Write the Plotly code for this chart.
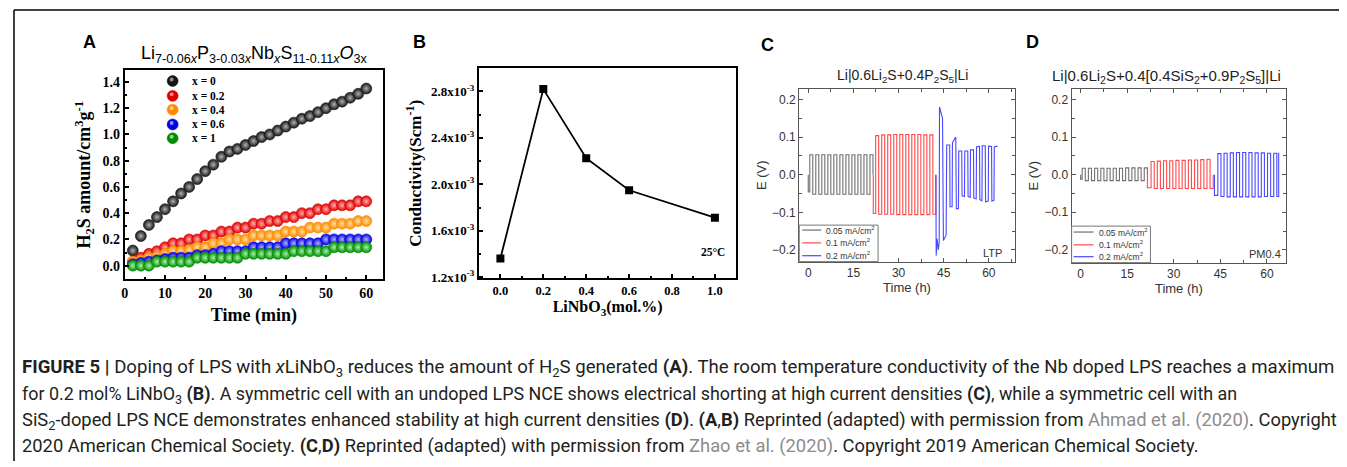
import plotly.graph_objects as go

W, H = 1347, 467
OX, OY = 8, 8            # default page margin of the HTML body
FW, FH = W - OX, H - OY  # figure size so that it fills the window exactly

# ---------------- Panel A data ----------------
a_time = [2, 4, 6, 8, 10, 12, 14, 16, 18, 20, 22, 24, 26, 28, 30,
          32, 34, 36, 38, 40, 42, 44, 46, 48, 50, 52, 54, 56, 58, 60]
a_names = ["x = 0", "x = 0.2", "x = 0.4", "x = 0.6", "x = 1"]
a_x0 = [0.115, 0.226, 0.31, 0.37, 0.43, 0.49, 0.55, 0.60, 0.66, 0.72, 0.77, 0.83, 0.87, 0.89, 0.92,
        0.95, 0.98, 1.00, 1.03, 1.06, 1.09, 1.12, 1.14, 1.17, 1.20, 1.23, 1.25, 1.28, 1.31, 1.35]
a_x02 = [0.03, 0.06, 0.09, 0.11, 0.14, 0.17, 0.17, 0.20, 0.20, 0.23, 0.23, 0.26, 0.26, 0.29, 0.29,
         0.32, 0.32, 0.34, 0.34, 0.37, 0.37, 0.40, 0.40, 0.43, 0.43, 0.46, 0.46, 0.46, 0.49, 0.49]
a_x04 = [0.03, 0.04, 0.06, 0.07, 0.09, 0.11, 0.11, 0.12, 0.14, 0.14, 0.17, 0.17, 0.20, 0.20, 0.20,
         0.23, 0.23, 0.23, 0.23, 0.26, 0.26, 0.26, 0.29, 0.29, 0.29, 0.32, 0.32, 0.32, 0.34, 0.34]
a_x06 = [0.01, 0.02, 0.03, 0.04, 0.05, 0.06, 0.06, 0.06, 0.08, 0.08, 0.09, 0.11, 0.11, 0.11, 0.11,
         0.14, 0.14, 0.14, 0.14, 0.17, 0.17, 0.17, 0.17, 0.17, 0.20, 0.20, 0.20, 0.20, 0.20, 0.20]
a_x1 = [0.0, 0.0, 0.0, 0.03, 0.03, 0.03, 0.03, 0.03, 0.06, 0.06, 0.06, 0.06, 0.06, 0.06, 0.09,
        0.09, 0.09, 0.09, 0.09, 0.09, 0.11, 0.11, 0.11, 0.11, 0.11, 0.14, 0.14, 0.14, 0.14, 0.14]
a_series = [a_x0, a_x02, a_x04, a_x06, a_x1]
a_colors = ["#151515", "#e00000", "#ff8a00", "#0000e6", "#008c00"]
a_centers = ["#b0b0b0", "#ffb0b0", "#ffe0a0", "#b0b0ff", "#a8f0a8"]

# ---------------- Panel B data ----------------
b_x = [0.0, 0.2, 0.4, 0.6, 1.0]
b_y = [1.362e-3, 2.82e-3, 2.225e-3, 1.949e-3, 1.713e-3]
b_tickvals = [1.2e-3, 1.6e-3, 2.0e-3, 2.4e-3, 2.8e-3]
b_ticktext = ["1.2x10<sup>-3</sup>", "1.6x10<sup>-3</sup>", "2.0x10<sup>-3</sup>",
              "2.4x10<sup>-3</sup>", "2.8x10<sup>-3</sup>"]

# ---------------- Panel C data (switch times, plateau voltages) ----------------
cd_names = ["0.05 mA/cm<sup>2</sup>", "0.1 mA/cm<sup>2</sup>", "0.2 mA/cm<sup>2</sup>"]
c_gray_t = [0, 0.5, 1.5, 2.5, 3.5, 4.5, 5.5, 6.5, 7.5, 8.5, 9.5, 10.5, 11.5, 12.5, 13.5,
            14.5, 15.5, 16.5, 17.5, 18.5, 19.5, 20.5, 21.5]
c_gray_v = [-0.046, 0.053, -0.052, 0.053, -0.052, 0.053, -0.052, 0.053, -0.052, 0.053, -0.052,
            0.053, -0.052, 0.053, -0.052, 0.053, -0.052, 0.053, -0.052, 0.053, -0.052, 0.053]
c_red_t = [21.6, 22.4, 23.4, 24.4, 25.4, 26.4, 27.4, 28.4, 29.4, 30.4, 31.4, 32.4, 33.4,
           34.4, 35.4, 36.4, 37.4, 38.4, 39.4, 40.4, 41.4, 42.4]
c_red_v = [-0.103, 0.104, -0.105, 0.106, -0.105, 0.106, -0.105, 0.107, -0.106, 0.107, -0.106,
           0.107, -0.106, 0.107, -0.106, 0.107, -0.106, 0.106, -0.106, 0.106, -0.105]
c_blue_t = [42.4, 42.5, 42.8, 43.2, 43.5, 43.6, 44.6, 44.9, 45.8, 46.0, 47.0, 47.1, 47.8, 47.9,
            49.0, 49.2, 49.9, 50.0, 51.0, 51.1, 51.9, 52.0, 53.0, 53.1, 53.8, 53.9, 54.9, 55.0,
            55.8, 55.9, 56.9, 57.0, 57.7, 57.8, 58.8, 58.9, 59.8, 59.9, 60.9, 61.0, 61.7, 61.8, 62.9]
c_blue_v = [0.0, -0.215, -0.17, -0.2, -0.18, 0.18, 0.15, -0.175, -0.16, 0.079, 0.079, -0.085,
            -0.085, 0.085, 0.1, -0.09, -0.09, 0.063, 0.063, -0.056, -0.058, 0.063, 0.063, -0.058,
            -0.06, 0.066, 0.066, -0.062, -0.064, 0.074, 0.076, -0.066, -0.07, 0.077, 0.077,
            -0.072, -0.07, 0.076, 0.075, -0.07, -0.068, 0.074, 0.076]

# ---------------- Panel D data ----------------
d_gray_t = [0, 0.5, 1.5, 2.5, 3.5, 4.5, 5.5, 6.5, 7.5, 8.5, 9.5, 10.5, 11.5, 12.5, 13.5,
            14.5, 15.5, 16.5, 17.5, 18.5, 19.5, 20.5, 21.5]
d_gray_v = [-0.012, 0.017, -0.016, 0.017, -0.016, 0.017, -0.016, 0.017, -0.016, 0.017, -0.016,
            0.017, -0.016, 0.017, -0.016, 0.018, -0.016, 0.018, -0.016, 0.018, -0.016, 0.018]
d_red_t = [21.5, 22.7, 23.7, 24.7, 25.7, 26.7, 27.7, 28.7, 29.7, 30.7, 31.7, 32.7, 33.7,
           34.7, 35.7, 36.7, 37.7, 38.7, 39.7, 40.7, 41.7, 42.7]
d_red_v = [-0.035, 0.035, -0.037, 0.036, -0.037, 0.037, -0.037, 0.037, -0.037, 0.038, -0.037,
           0.038, -0.037, 0.039, -0.037, 0.039, -0.037, 0.040, -0.037, 0.041, -0.037]
d_blue_t = [43.1, 44.2, 45.2, 46.2, 47.2, 48.2, 49.2, 50.2, 51.2, 52.2, 53.2, 54.2, 55.2,
            56.2, 57.2, 58.2, 59.2, 60.2, 61.2, 62.2, 63.2, 63.8, 63.8]
d_blue_v = [-0.055, 0.056, -0.058, 0.057, -0.059, 0.058, -0.059, 0.059, -0.059, 0.059, -0.059,
            0.059, -0.059, 0.058, -0.059, 0.058, -0.058, 0.057, -0.058, 0.057, -0.058, 0.058]

cd_colors = ["#707070", "#ff4848", "#4848ff"]


def step_xy(times, values, end_zero=True):
    xs, ys = [times[0]], [0.0]
    for i, v in enumerate(values):
        xs += [times[i], times[i + 1]]
        ys += [v, v]
    if end_zero:
        xs.append(times[-1])
        ys.append(0.0)
    return xs, ys


def fx(p):
    return (p - OX) / FW


def fy(p):
    return 1 - (p - OY) / FH


SERIF = "Liberation Serif"
SANS = "Liberation Sans"

fig = go.Figure()

# Panel A traces
for name, ys, col, cen in zip(a_names, a_series, a_colors, a_centers):
    fig.add_trace(go.Scatter(
        x=a_time, y=ys, mode="markers", name=name, showlegend=False,
        marker=dict(size=11, color=col, gradient=dict(type="radial", color=cen),
                    line=dict(width=0.6, color=col)),
        xaxis="x", yaxis="y"))

# Panel B trace
fig.add_trace(go.Scatter(
    x=b_x, y=b_y, mode="lines+markers", showlegend=False,
    line=dict(color="black", width=1.8),
    marker=dict(symbol="square", size=8, color="black"),
    xaxis="x2", yaxis="y2"))

# Panel C traces
for (t, v, ez), col in zip([(c_gray_t, c_gray_v, True), (c_red_t, c_red_v, True)], cd_colors[:2]):
    xs, ys = step_xy(t, v, ez)
    fig.add_trace(go.Scatter(x=xs, y=ys, mode="lines", showlegend=False,
                             line=dict(color=col, width=1.1), xaxis="x3", yaxis="y3"))
fig.add_trace(go.Scatter(x=c_blue_t, y=c_blue_v, mode="lines", showlegend=False,
                         line=dict(color=cd_colors[2], width=1.1), xaxis="x3", yaxis="y3"))

# Panel D traces
for (t, v, ez), col in zip([(d_gray_t, d_gray_v, True), (d_red_t, d_red_v, True),
                            (d_blue_t, d_blue_v, False)], cd_colors):
    xs, ys = step_xy(t, v, ez)
    fig.add_trace(go.Scatter(x=xs, y=ys, mode="lines", showlegend=False,
                             line=dict(color=col, width=1.1), xaxis="x4", yaxis="y4"))

# ---------------- axes ----------------
sans_tick = dict(family=SANS, size=12, color="#333333")
sans_title = dict(family=SANS, size=13, color="#333333")


def sfont(size):
    return dict(family=SERIF, size=size, color="black", weight="bold")


def ab_axis(domain, anchor, rng, **kw):
    d = dict(domain=domain, anchor=anchor, range=rng, showline=True, linecolor="black",
             linewidth=2, mirror=True, ticks="inside", ticklen=4, tickwidth=1.5,
             tickcolor="black", showgrid=False, zeroline=False, tickfont=sfont(14))
    d.update(kw)
    return d


def cd_axis(domain, anchor, rng, **kw):
    d = dict(domain=domain, anchor=anchor, range=rng, showline=True, linecolor="#555555",
             linewidth=1.2, mirror="allticks", ticks="inside", ticklen=4, tickwidth=1,
             tickcolor="#555555", showgrid=False, zeroline=False, tickfont=sans_tick)
    d.update(kw)
    return d


fig.update_layout(
    xaxis=ab_axis([fx(122), fx(381)], "y", [0, 64.2], dtick=10,
                  minor=dict(ticks="inside", ticklen=2.5, dtick=5, tickcolor="black"),
                  title=dict(text="Time (min)", font=sfont(18), standoff=8)),
    yaxis=ab_axis([fy(283), fy(71)], "x", [-0.105, 1.49], dtick=0.2, tickformat=".1f",
                  minor=dict(ticks="inside", ticklen=2.5, dtick=0.1, tickcolor="black"),
                  title=dict(text="H<sub>2</sub>S amount/cm<sup>3</sup>g<sup>-1</sup>",
                             font=sfont(18), standoff=7)),
    xaxis2=ab_axis([fx(477), fx(735)], "y2", [-0.1, 1.1],
                   tickvals=[0.0, 0.2, 0.4, 0.6, 0.8, 1.0], tickformat=".1f",
                   minor=dict(ticks="inside", ticklen=2.5, dtick=0.1, tickcolor="black"),
                   tickfont=sfont(12.5),
                   title=dict(text="LiNbO<sub>3</sub>(mol.%)", font=sfont(16), standoff=0)),
    yaxis2=ab_axis([fy(282), fy(69)], "x2", [1.19e-3, 3.0e-3], tickvals=b_tickvals,
                   ticktext=b_ticktext,
                   minor=dict(ticks="inside", ticklen=2.5, dtick=0.2e-3, tick0=1.2e-3,
                              tickcolor="black"),
                   tickfont=sfont(13),
                   title=dict(text="Conductivity(Scm<sup>-1</sup>)", font=sfont(17), standoff=5)),
    xaxis3=cd_axis([fx(798), fx(1014)], "y3", [-3, 68.6], tickvals=[0, 15, 30, 45, 60],
                   minor=dict(ticks="inside", ticklen=3, dtick=7.5, tick0=0, tickcolor="#555555"),
                   title=dict(text="Time (h)", font=sans_title, standoff=0)),
    yaxis3=cd_axis([fy(265), fy(90)], "x3", [-0.231, 0.228], tickvals=[-0.2, -0.1, 0.0, 0.1, 0.2],
                   tickformat=".1f",
                   minor=dict(ticks="inside", ticklen=3, dtick=0.05, tick0=0, tickcolor="#555555"),
                   title=dict(text="E (V)", font=sans_title, standoff=2)),
    xaxis4=cd_axis([fx(1071), fx(1286)], "y4", [-2.9, 66.2], tickvals=[0, 15, 30, 45, 60],
                   minor=dict(ticks="inside", ticklen=3, dtick=7.5, tick0=0, tickcolor="#555555"),
                   title=dict(text="Time (h)", font=sans_title, standoff=0)),
    yaxis4=cd_axis([fy(266), fy(90)], "x4", [-0.234, 0.228], tickvals=[-0.2, -0.1, 0.0, 0.1, 0.2],
                   tickformat=".1f",
                   minor=dict(ticks="inside", ticklen=3, dtick=0.05, tick0=0, tickcolor="#555555"),
                   title=dict(text="E (V)", font=sans_title, standoff=2)),
)

shapes = []
annotations = []

# outer frame (left and top)
shapes.append(dict(type="line", xref="paper", yref="paper", x0=fx(11), x1=1.0, y0=fy(10), y1=fy(10),
                   line=dict(color="black", width=1.5)))
shapes.append(dict(type="line", xref="paper", yref="paper", x0=fx(11), x1=fx(11), y0=fy(10), y1=0,
                   line=dict(color="black", width=1.5)))

# Panel A legend (manual)
a_leg_y = [82, 97, 111, 126, 140]
for name, col, cen, py in zip(a_names, a_colors, a_centers, a_leg_y):
    r = 5.5
    shapes.append(dict(type="circle", xref="paper", yref="paper", x0=fx(170 - r), x1=fx(170 + r),
                       y0=fy(py + r), y1=fy(py - r), fillcolor=col, line=dict(color=col, width=0.6)))
    shapes.append(dict(type="circle", xref="paper", yref="paper", x0=fx(167), x1=fx(171),
                       y0=fy(py + 0.5), y1=fy(py - 3.5), fillcolor=cen, opacity=0.8,
                       line=dict(width=0)))
    annotations.append(dict(text=name, xref="paper", yref="paper", x=fx(187), y=fy(py),
                            xanchor="left", yanchor="middle", showarrow=False,
                            font=sfont(11.5)))

# Panel C / D legends (manual)
for bx0, bx1, by0, by1, rows, lx0, lx1, tx in [
        (798, 877, 228, 265, [233, 246, 259], 801, 820, 823),
        (1071, 1150, 229, 266, [235, 248, 260], 1073, 1093, 1096)]:
    shapes.append(dict(type="rect", xref="paper", yref="paper", x0=fx(bx0), x1=fx(bx1),
                       y0=fy(by1), y1=fy(by0), fillcolor="white", line=dict(color="#777777", width=1)))
    for name, col, py in zip(cd_names, cd_colors, rows):
        shapes.append(dict(type="line", xref="paper", yref="paper", x0=fx(lx0), x1=fx(lx1),
                           y0=fy(py), y1=fy(py), line=dict(color=col, width=1.2)))
        annotations.append(dict(text=name, xref="paper", yref="paper", x=fx(tx), y=fy(py),
                                xanchor="left", yanchor="middle", showarrow=False,
                                font=dict(family=SANS, size=8.5, color="#333333")))


def ann(text, px, py, font, xanchor="center", yanchor="middle"):
    annotations.append(dict(text=text, xref="paper", yref="paper", x=fx(px), y=fy(py),
                            xanchor=xanchor, yanchor=yanchor, showarrow=False, font=font))


letter_font = dict(family=SANS, size=18, color="black", weight="bold")
ann("A", 87, 42, letter_font)
ann("B", 417, 42, letter_font)
ann("C", 766, 45, letter_font)
ann("D", 1032, 42, letter_font)

ann("Li<sub>7-0.06<i>x</i></sub>P<sub>3-0.03<i>x</i></sub>Nb<sub><i>x</i></sub>"
    "S<sub>11-0.11<i>x</i></sub><i>O</i><sub>3x</sub>", 252, 55,
    dict(family=SANS, size=18, color="black"))
ann("Li|0.6Li<sub>2</sub>S+0.4P<sub>2</sub>S<sub>5</sub>|Li", 902, 77,
    dict(family=SANS, size=14, color="#222222"))
ann("Li|0.6Li<sub>2</sub>S+0.4[0.4SiS<sub>2</sub>+0.9P<sub>2</sub>S<sub>5</sub>]|Li", 1166, 77,
    dict(family=SANS, size=15, color="#222222"))
ann("25°C", 712, 255, sfont(11.5))
ann("LTP", 992, 256, dict(family=SANS, size=11, color="#333333"))
ann("PM0.4", 1265, 257, dict(family=SANS, size=11, color="#333333"))

# caption
gray = "<span style='color:#8c8c8c'>"
cap_lines = [
    "<b>FIGURE 5 |</b> Doping of LPS with <i>x</i>LiNbO<sub>3</sub> reduces the amount of H<sub>2</sub>S "
    "generated <b>(A)</b>. The room temperature conductivity of the Nb doped LPS reaches a maximum",
    "for 0.2 mol% LiNbO<sub>3</sub> <b>(B)</b>. A symmetric cell with an undoped LPS NCE shows electrical "
    "shorting at high current densities <b>(C)</b>, while a symmetric cell with an",
    "SiS<sub>2</sub>-doped LPS NCE demonstrates enhanced stability at high current densities <b>(D)</b>. "
    "<b>(A</b>,<b>B)</b> Reprinted (adapted) with permission from " + gray + "Ahmad et al. (2020)</span>. Copyright",
    "2020 American Chemical Society. <b>(C</b>,<b>D)</b> Reprinted (adapted) with permission from "
    + gray + "Zhao et al. (2020)</span>. Copyright 2019 American Chemical Society.",
]
cap_sizes = [18.6, 17.9, 18.35, 18.35]
for line, py, sz in zip(cap_lines, [373, 400, 426, 452], cap_sizes):
    ann(line, 17, py, dict(family="Roboto", size=sz, color="#231f20"), xanchor="left")

fig.update_layout(
    width=FW, height=FH, margin=dict(l=0, r=0, t=0, b=0),
    paper_bgcolor="white", plot_bgcolor="white",
    shapes=shapes, annotations=annotations, showlegend=False,
)

fig.write_html("out.html")
